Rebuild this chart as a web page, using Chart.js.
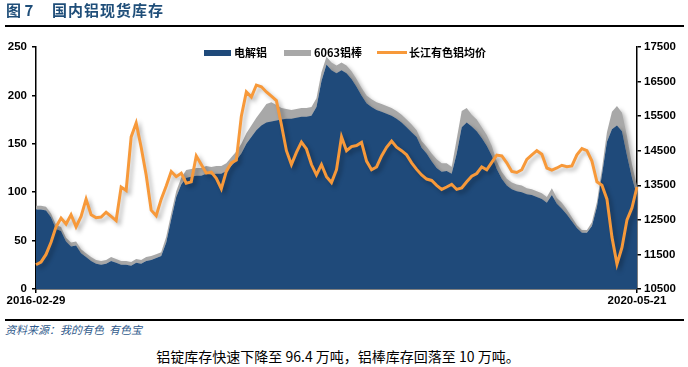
<!DOCTYPE html>
<html>
<head>
<meta charset="utf-8">
<script src="https://cdn.jsdelivr.net/npm/chart.js@4.4.1/dist/chart.umd.min.js"></script>
<style>
  body { margin: 0; background: #fff; }
  #page { position: relative; width: 688px; height: 367px; overflow: hidden; background: #fff;
          font-family: "Noto Sans CJK SC", "Liberation Sans", sans-serif; }
  .abs { position: absolute; white-space: nowrap; }
  .title { font-size: 15px; font-weight: bold; color: #1f4e79; top: 1px; line-height: 18px; }
  .rule { position: absolute; left: 5px; width: 679px; height: 2px; background: #000; }
  .lg { top: 45px; font-size: 11px; font-weight: bold; line-height: 14px; color: #000; }
  .sw { position: absolute; }
  #src { left: 5px; top: 321px; font-size: 11px; font-style: italic; color: #2f5a8c; }
  #cap { left: 0; width: 676px; text-align: center; top: 346px; font-size: 14px; color: #000; line-height: 20px; }
</style>
</head>
<body>
<div id="page">
  <canvas id="chart" width="688" height="312" style="position:absolute;left:0;top:0"></canvas>
  <div class="abs title" style="left:6px">图 7</div>
  <div class="abs title" style="left:52px;letter-spacing:1px">国内铝现货库存</div>
  <div class="rule" style="top:25px"></div>

  <div class="sw" style="left:204px;top:50px;width:27px;height:6px;background:#1f4a7a"></div>
  <div class="abs lg" style="left:234px">电解铝</div>
  <div class="sw" style="left:284px;top:50px;width:27px;height:6px;background:#a8a8a8"></div>
  <div class="abs lg" style="left:314px">6063铝棒</div>
  <div class="sw" style="left:377px;top:51px;width:30px;height:3px;background:#f7993a"></div>
  <div class="abs lg" style="left:409px">长江有色铝均价</div>

  <div class="rule" style="top:319px"></div>
  <div class="abs" id="src">资料来源：我的有色&nbsp; 有色宝</div>
  <div class="abs" id="cap">铝锭库存快速下降至 96.4 万吨，铝棒库存回落至 10 万吨。</div>
</div>
<script>
// inventory, 10k tonnes (left axis)
const electrolytic = [
  82, 82, 81, 74, 62, 60, 49, 44, 45, 37,
  33, 29, 26, 25, 26, 29, 27, 25, 25, 24,
  27, 26, 29, 30, 32, 34, 48, 72, 95, 108,
  115, 116, 117, 117, 119, 118, 119, 119, 122, 127,
  133, 140, 150, 157, 164, 169, 172, 173, 174, 175,
  176, 176, 177, 178, 178, 179, 188, 215, 232, 226,
  223, 226, 223, 217, 209, 200, 192, 188, 185, 183,
  181, 179, 176, 172, 167, 162, 157, 146, 140, 132,
  125, 121, 122, 119, 140, 167, 172, 168, 163, 156,
  148, 138, 124, 114, 107, 103, 101, 100, 98, 97,
  95, 93, 89, 97, 88, 83, 77, 70, 63, 58,
  58, 65, 85, 118, 152, 165, 169, 163, 138, 115, 96.4
]
// 6063 rod inventory, stacked on top of the ingot area
const rod6063 = [
  4, 4, 4, 4, 4, 4, 4, 4, 4, 4,
  4, 4, 4, 4, 4, 4, 4, 4, 4, 4,
  4, 4, 4, 4, 4, 4, 6, 6, 6, 7,
  8, 8, 8, 8, 8, 8, 8, 8, 8, 9,
  9, 10, 11, 12, 13, 15, 19, 20, 16, 12,
  10, 9, 9, 9, 9, 9, 9, 9, 8, 8,
  8, 8, 8, 8, 8, 8, 8, 8, 8, 8,
  8, 8, 8, 8, 8, 8, 7, 7, 7, 8,
  9, 9, 8, 7, 15, 17, 15, 12, 12, 11,
  11, 10, 8, 7, 7, 7, 7, 7, 6, 6,
  6, 6, 6, 7, 6, 6, 5, 4, 3, 3,
  3, 4, 5, 6, 10, 18, 20, 19, 20, 14, 10
]
// Changjiang average price, yuan/t (right axis)
const price = [
  11200, 11280, 11500, 11850, 12300, 12550, 12380, 12650, 12300, 12600,
  13100, 12650, 12560, 12580, 12720, 12600, 12480, 13450, 13350, 14900,
  15300, 14600, 13800, 12780, 12620, 13100, 13480, 13900, 13750, 13850,
  13560, 13600, 14350, 14100, 13850, 13880, 13700, 13400, 13900, 14150,
  14230, 15500, 16200, 16050, 16400, 16350, 16200, 16080, 15950, 15250,
  14500, 14100, 14450, 14750, 14550, 14100, 13800, 14100, 13750, 13580,
  13950, 14900, 14500, 14620, 14650, 14740, 14200, 13950, 14030, 14350,
  14600, 14780, 14600, 14500, 14380, 14150, 13960, 13800, 13680, 13640,
  13500, 13380, 13450, 13530, 13380, 13420, 13600, 13760, 13840, 14030,
  13950, 14160, 14375, 14350, 14150, 13900, 13870, 13950, 14250, 14380,
  14500, 14400, 14000, 13940, 14000, 14080, 14040, 14060, 14380, 14560,
  14500, 14200, 13600, 13500, 13100, 12000, 11220, 11700, 12500, 12850, 13450
]
const startDate = '2016-02-29'
const endDate = '2020-05-21'

// one label per sample, evenly spread between the two end dates
let labels = []
let t0 = Date.parse(startDate), t1 = Date.parse(endDate)
for (let i = 0; i < price.length; i++) {
  let d = new Date(t0 + (t1 - t0) * i / (price.length - 1))
  labels.push(d.toISOString().slice(0, 10))
}
labels[0] = startDate
labels[labels.length - 1] = endDate

const shadow = {
  id: 'shadow',
  beforeDatasetsDraw(chart) {
    const c = chart.ctx
    c.save()
    c.shadowColor = 'rgba(0,0,0,0.28)'
    c.shadowBlur = 4
    c.shadowOffsetX = 3
    c.shadowOffsetY = 3
  },
  afterDatasetsDraw(chart) { chart.ctx.restore() }
}

Chart.defaults.font.family = '"Liberation Sans", Arial, sans-serif'
Chart.defaults.color = '#000'

const tickFont = { size: 11.5, weight: 'bold' }
const last = labels.length - 1

new Chart('chart', {
  type: 'line',
  data: {
    labels: labels,
    datasets: [
      {
        label: '长江有色铝均价',
        data: price,
        yAxisID: 'y1',
        borderColor: '#f7993a',
        borderWidth: 3,
        pointRadius: 0,
        fill: false,
        tension: 0,
        stack: 'price'
      },
      {
        label: '电解铝',
        data: electrolytic,
        yAxisID: 'y',
        borderWidth: 0,
        borderColor: 'rgba(0,0,0,0)',
        backgroundColor: '#1f4a7a',
        pointRadius: 0,
        fill: 'origin',
        tension: 0,
        stack: 'stock'
      },
      {
        label: '6063铝棒',
        data: rod6063,
        yAxisID: 'y',
        borderWidth: 0,
        borderColor: 'rgba(0,0,0,0)',
        backgroundColor: '#a8a8a8',
        pointRadius: 0,
        fill: '-1',
        tension: 0,
        stack: 'stock'
      }
    ]
  },
  options: {
    responsive: false,
    animation: false,
    layout: { padding: { top: 47, left: 0, right: 0, bottom: 0 } },
    plugins: {
      legend: { display: false },
      tooltip: { enabled: false }
    },
    scales: {
      x: {
        type: 'category',
        offset: false,
        grid: { drawOnChartArea: false, tickLength: 4, color: '#000', lineWidth: 1.5 },
        border: { color: '#000', width: 1.5 },
        ticks: {
          autoSkip: false,
          maxRotation: 0,
          padding: 1,
          font: tickFont,
          callback: (v, i) => (i === 0 || i === last) ? labels[i] : null
        },
        afterFit: s => { s.height = 23 }
      },
      y: {
        position: 'left',
        stacked: true,
        min: 0, max: 250,
        ticks: { stepSize: 50, padding: 5, font: tickFont, callback: v => String(v) },
        grid: { drawOnChartArea: false, tickLength: 4, color: '#000', lineWidth: 1.5 },
        border: { color: '#000', width: 1.5 },
        afterFit: s => { s.width = 36 }
      },
      y1: {
        position: 'right',
        min: 10500, max: 17500,
        ticks: { stepSize: 1000, padding: 3, font: tickFont, callback: v => String(v) },
        grid: { drawOnChartArea: false, tickLength: 4, color: '#000', lineWidth: 1.5 },
        border: { color: '#000', width: 1.5 },
        afterFit: s => { s.width = 51 }
      }
    }
  },
  plugins: [shadow]
})
</script>
</body>
</html>
